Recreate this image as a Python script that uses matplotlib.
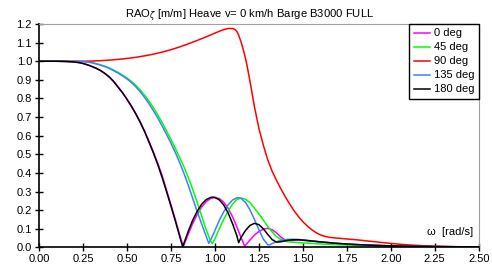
import matplotlib
matplotlib.use('Agg')
from matplotlib import pyplot as plt

plt.rcParams['font.family'] = ['Liberation Sans', 'DejaVu Sans']
plt.rcParams['font.size'] = 8

# tail shared by the oscillating headings
w_tail = [1.55, 1.6, 1.65, 1.7, 1.75, 1.8, 1.9, 2.0, 2.1, 2.25, 2.5]

# heading 0 deg
w_0 = [0.0, 0.1, 0.15, 0.2, 0.225, 0.25, 0.275, 0.3, 0.325, 0.35, 0.375, 0.4, 0.425, 0.45, 0.475,
       0.5, 0.525, 0.55, 0.575, 0.6, 0.625, 0.65, 0.675, 0.7, 0.725, 0.75, 0.775, 0.8, 0.82, 0.825,
       0.85, 0.875, 0.9, 0.925, 0.95, 0.975, 1.0, 1.025, 1.05, 1.075, 1.1, 1.125, 1.15, 1.17, 1.175,
       1.2, 1.225, 1.25, 1.275, 1.3, 1.325, 1.35, 1.375, 1.4, 1.425, 1.45, 1.475, 1.5] + w_tail
rao_0 = [1.0, 1.0, 0.999, 0.996, 0.993, 0.988, 0.981, 0.972, 0.962, 0.95, 0.934, 0.915, 0.892, 0.862,
         0.832, 0.797, 0.761, 0.72, 0.675, 0.626, 0.571, 0.513, 0.452, 0.387, 0.307, 0.229, 0.15,
         0.067, 0.003, 0.015, 0.075, 0.13, 0.178, 0.217, 0.245, 0.262, 0.268, 0.262, 0.243, 0.21,
         0.165, 0.11, 0.05, 0.005, 0.012, 0.04, 0.066, 0.085, 0.098, 0.102, 0.095, 0.078, 0.055, 0.04,
         0.036, 0.038, 0.039, 0.038,
         0.034, 0.029, 0.025, 0.021, 0.018, 0.015, 0.011, 0.008, 0.006, 0.004, 0.002]

# heading 45 deg
w_45 = [0.0, 0.1, 0.2, 0.25, 0.3, 0.35, 0.4, 0.45, 0.5, 0.525, 0.55, 0.575, 0.6, 0.625, 0.65, 0.675,
        0.7, 0.725, 0.75, 0.775, 0.8, 0.825, 0.85, 0.875, 0.9, 0.925, 0.95, 0.975, 0.985, 1.0, 1.025,
        1.05, 1.075, 1.1, 1.125, 1.15, 1.175, 1.2, 1.225, 1.25, 1.275, 1.3, 1.325, 1.35, 1.375, 1.4,
        1.425, 1.45, 1.5, 1.55, 1.6, 1.7, 1.8, 2.0, 2.25, 2.5]
rao_45 = [1.0, 1.0, 0.999, 0.998, 0.993, 0.981, 0.964, 0.94, 0.91, 0.892, 0.871, 0.846, 0.818, 0.786,
          0.751, 0.712, 0.67, 0.626, 0.58, 0.532, 0.482, 0.43, 0.373, 0.308, 0.24, 0.168, 0.095, 0.035,
          0.02, 0.045, 0.1, 0.15, 0.195, 0.232, 0.257, 0.265, 0.258, 0.24, 0.21, 0.18, 0.147, 0.113,
          0.083, 0.058, 0.042, 0.033, 0.029, 0.027, 0.024, 0.021, 0.018, 0.014, 0.011, 0.007, 0.003,
          0.002]

# heading 90 deg
w_90 = [0.0, 0.25, 0.3, 0.35, 0.4, 0.45, 0.5, 0.55, 0.6, 0.65, 0.7, 0.75, 0.8, 0.85, 0.9, 0.95, 1.0,
        1.025, 1.05, 1.075, 1.1, 1.115, 1.125, 1.135, 1.15, 1.165, 1.18, 1.2, 1.225, 1.25, 1.275, 1.3,
        1.325, 1.35, 1.375, 1.4, 1.425, 1.45, 1.475, 1.5, 1.525, 1.55, 1.575, 1.6, 1.625, 1.65, 1.7,
        1.75, 1.8, 1.85, 1.9, 1.95, 2.0, 2.05, 2.1, 2.2, 2.3, 2.4, 2.5]
rao_90 = [1.0, 1.0, 1.001, 1.003, 1.006, 1.01, 1.015, 1.021, 1.029, 1.038, 1.049, 1.062, 1.077, 1.094,
          1.112, 1.131, 1.151, 1.161, 1.17, 1.176, 1.176, 1.17, 1.16, 1.14, 1.1, 1.05, 0.99, 0.89,
          0.755, 0.64, 0.55, 0.472, 0.41, 0.36, 0.315, 0.272, 0.233, 0.197, 0.165, 0.138, 0.115, 0.095,
          0.079, 0.067, 0.059, 0.054, 0.049, 0.045, 0.041, 0.036, 0.031, 0.026, 0.021, 0.017, 0.013,
          0.008, 0.005, 0.003, 0.002]

# heading 135 deg
w_135 = [0.0, 0.1, 0.2, 0.25, 0.275, 0.3, 0.325, 0.35, 0.375, 0.4, 0.425, 0.45, 0.475, 0.5, 0.525,
         0.55, 0.575, 0.6, 0.625, 0.65, 0.675, 0.7, 0.725, 0.75, 0.775, 0.8, 0.825, 0.85, 0.875, 0.9,
         0.925, 0.95, 0.965, 0.975, 1.0, 1.025, 1.05, 1.075, 1.1, 1.125, 1.135, 1.15, 1.175, 1.2,
         1.225, 1.25, 1.275, 1.3, 1.31, 1.325, 1.35, 1.375, 1.4, 1.425, 1.45, 1.475, 1.5] + w_tail
rao_135 = [1.0, 1.0, 0.999, 0.998, 0.996, 0.992, 0.986, 0.979, 0.971, 0.961, 0.949, 0.936, 0.921,
           0.905, 0.886, 0.863, 0.836, 0.806, 0.772, 0.735, 0.695, 0.652, 0.607, 0.56, 0.51, 0.455,
           0.395, 0.33, 0.26, 0.19, 0.125, 0.06, 0.022, 0.038, 0.09, 0.145, 0.19, 0.228, 0.254, 0.266,
           0.267, 0.262, 0.24, 0.2, 0.15, 0.095, 0.045, 0.014, 0.013, 0.02, 0.03, 0.037, 0.041, 0.043,
           0.043, 0.042, 0.04,
           0.035, 0.03, 0.025, 0.021, 0.018, 0.015, 0.011, 0.008, 0.006, 0.004, 0.002]

# heading 180 deg
w_180 = [0.0, 0.1, 0.15, 0.2, 0.225, 0.25, 0.275, 0.3, 0.325, 0.35, 0.375, 0.4, 0.425, 0.45, 0.475,
         0.5, 0.525, 0.55, 0.575, 0.6, 0.625, 0.65, 0.675, 0.7, 0.725, 0.75, 0.775, 0.8, 0.817, 0.825,
         0.85, 0.875, 0.9, 0.925, 0.95, 0.975, 0.987, 1.0, 1.025, 1.05, 1.075, 1.1, 1.125, 1.135, 1.15,
         1.175, 1.2, 1.225, 1.25, 1.275, 1.3, 1.325, 1.35, 1.375, 1.4, 1.425, 1.45, 1.475, 1.5] + w_tail
rao_180 = [1.0, 1.0, 0.999, 0.996, 0.993, 0.988, 0.981, 0.972, 0.962, 0.95, 0.934, 0.915, 0.89, 0.86,
           0.83, 0.795, 0.758, 0.717, 0.672, 0.622, 0.566, 0.508, 0.445, 0.375, 0.3, 0.222, 0.142,
           0.058, 0.003, 0.025, 0.09, 0.148, 0.195, 0.232, 0.256, 0.268, 0.27, 0.268, 0.255, 0.228,
           0.185, 0.128, 0.062, 0.025, 0.055, 0.092, 0.118, 0.129, 0.122, 0.1, 0.07, 0.042, 0.028, 0.03,
           0.035, 0.039, 0.041, 0.041, 0.039,
           0.034, 0.029, 0.025, 0.021, 0.018, 0.015, 0.011, 0.008, 0.006, 0.004, 0.002]

series = [
    (w_0, rao_0, '0 deg', '#ff00ff'),
    (w_45, rao_45, '45 deg', '#00ff00'),
    (w_90, rao_90, '90 deg', '#ff0000'),
    (w_135, rao_135, '135 deg', '#3f7fff'),
    (w_180, rao_180, '180 deg', '#000000'),
]

xticks = [0.0, 0.25, 0.5, 0.75, 1.0, 1.25, 1.5, 1.75, 2.0, 2.25, 2.5]
yticks = [0.0, 0.1, 0.2, 0.3, 0.4, 0.5, 0.6, 0.7, 0.8, 0.9, 1.0, 1.1, 1.2]

fig = plt.figure(figsize=(4.92, 2.73), dpi=100)
ax = fig.add_axes([0.0793, 0.094, 0.8937, 0.818])

for w, r, lab, col in series:
    ax.plot(w, r, color=col, lw=1.1, label=lab)

ax.set_xlim(0, 2.5)
ax.set_ylim(0, 1.2)
ax.set_xticks(xticks)
ax.set_xticklabels(['%.2f' % t for t in xticks])
ax.set_yticks(yticks)
ax.set_yticklabels(['%.1f' % t for t in yticks])
ax.tick_params(direction='inout', length=6, width=1, colors='black', labelsize=8, pad=2)

for s in ['top', 'right']:
    ax.spines[s].set_color('#a0a0a0')
for s in ['left', 'bottom']:
    ax.spines[s].set_color('black')
    ax.spines[s].set_linewidth(1.2)

ax.set_title('RAO$_\\zeta$ [m/m] Heave v= 0 km/h Barge B3000 FULL', fontsize=8.1, pad=3, x=0.48)
ax.text(0.988, 0.07, '\u03c9  [rad/s]', transform=ax.transAxes, ha='right', va='center', fontsize=8)

leg = ax.legend(loc='upper right', bbox_to_anchor=(1, 1), borderaxespad=0, fancybox=False,
                edgecolor='black', framealpha=1, fontsize=8, handlelength=1.5,
                labelspacing=0.36, handletextpad=0.3, borderpad=0.4)
leg.get_frame().set_linewidth(1.0)

fig.savefig('out.png', dpi=100)
